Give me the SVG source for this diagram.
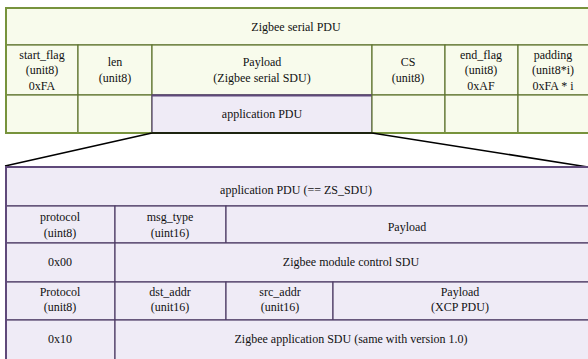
<svg xmlns="http://www.w3.org/2000/svg" width="588" height="359" viewBox="0 0 588 359" font-family="'Liberation Serif', 'DejaVu Serif', serif">
<style>
text{font-family:'Liberation Serif','DejaVu Serif',serif;font-size:12px;fill:#111;text-anchor:middle}
.g{fill:#f8fbec;stroke:#5f7530;stroke-width:1.2}
.p{fill:#efebf6;stroke:#4e3d66;stroke-width:1.2}
.gb{fill:none;stroke:#77933c;stroke-width:2}
.pb{fill:none;stroke:#5f497a;stroke-width:2}
.ln{stroke:#000;stroke-width:1.6;fill:none}
</style>
<rect width="588" height="359" fill="#fff"/>
<g id="top-table">
<g id="zs-pdu"><rect class="g" x="6" y="8" width="584" height="37"/><text x="296" y="31">Zigbee serial PDU</text></g>
<g id="start_flag"><rect class="g" x="6" y="45" width="72" height="50"/><text x="42" y="59">start_flag</text><text x="42" y="74">(unit8)</text><text x="42" y="90">0xFA</text></g>
<g id="len"><rect class="g" x="78" y="45" width="74" height="50"/><text x="115" y="66">len</text><text x="115" y="82">(unit8)</text></g>
<g id="payload"><rect class="g" x="152" y="45" width="220" height="50"/><text x="262" y="66">Payload</text><text x="262" y="82">(Zigbee serial SDU)</text></g>
<g id="cs"><rect class="g" x="372" y="45" width="73" height="50"/><text x="408" y="66">CS</text><text x="408" y="82">(unit8)</text></g>
<g id="end_flag"><rect class="g" x="445" y="45" width="73" height="50"/><text x="481" y="59">end_flag</text><text x="481" y="74">(unit8)</text><text x="481" y="90">0xAF</text></g>
<g id="padding"><rect class="g" x="518" y="45" width="72" height="50"/><text x="553" y="59">padding</text><text x="553" y="74">(unit8*i)</text><text x="553" y="90">0xFA * i</text></g>
<g id="c31"><rect class="g" x="6" y="95" width="72" height="38"/></g>
<g id="c32"><rect class="g" x="78" y="95" width="74" height="38"/></g>
<g id="app-pdu"><rect class="p" x="152" y="95" width="220" height="38"/><line x1="152" y1="95.5" x2="372" y2="95.5" stroke="#5f497a" stroke-width="2"/><text x="262" y="118">application PDU</text></g>
<g id="c34"><rect class="g" x="372" y="95" width="73" height="38"/></g>
<g id="c35"><rect class="g" x="445" y="95" width="73" height="38"/></g>
<g id="c36"><rect class="g" x="518" y="95" width="72" height="38"/></g>
<rect class="gb" x="6" y="8" width="584" height="125"/>
</g>
<g id="connectors">
<path class="ln" d="M152 133 L372 133 M152 133 L5 166 M372 133 L588 167"/>
</g>
<g id="bottom-table">
<g id="zs-sdu"><rect class="p" x="6" y="167" width="584" height="39"/><text x="296" y="194">application PDU (== ZS_SDU)</text></g>
<g id="protocol"><rect class="p" x="6" y="206" width="109" height="37"/><text x="60" y="221">protocol</text><text x="60" y="237">(uint8)</text></g>
<g id="msg_type"><rect class="p" x="115" y="206" width="111" height="37"/><text x="170" y="221">msg_type</text><text x="170" y="237">(uint16)</text></g>
<g id="payload2"><rect class="p" x="226" y="206" width="364" height="37"/><text x="407" y="231">Payload</text></g>
<g id="v00"><rect class="p" x="6" y="243" width="109" height="39"/><text x="60" y="266">0x00</text></g>
<g id="module-ctrl"><rect class="p" x="115" y="243" width="475" height="39"/><text x="351" y="266">Zigbee module control SDU</text></g>
<g id="Protocol"><rect class="p" x="6" y="282" width="109" height="38"/><text x="60" y="296">Protocol</text><text x="60" y="311">(unit8)</text></g>
<g id="dst_addr"><rect class="p" x="115" y="282" width="111" height="38"/><text x="170" y="296">dst_addr</text><text x="170" y="311">(unit16)</text></g>
<g id="src_addr"><rect class="p" x="226" y="282" width="107" height="38"/><text x="280" y="296">src_addr</text><text x="280" y="311">(unit16)</text></g>
<g id="xcp"><rect class="p" x="333" y="282" width="257" height="38"/><text x="460" y="296">Payload</text><text x="460" y="311">(XCP PDU)</text></g>
<g id="v10"><rect class="p" x="6" y="320" width="109" height="40"/><text x="60" y="343">0x10</text></g>
<g id="app-sdu"><rect class="p" x="115" y="320" width="475" height="40"/><text x="351" y="343">Zigbee application SDU (same with version 1.0)</text></g>
<rect class="pb" x="6" y="167" width="584" height="194"/>
</g>
</svg>
